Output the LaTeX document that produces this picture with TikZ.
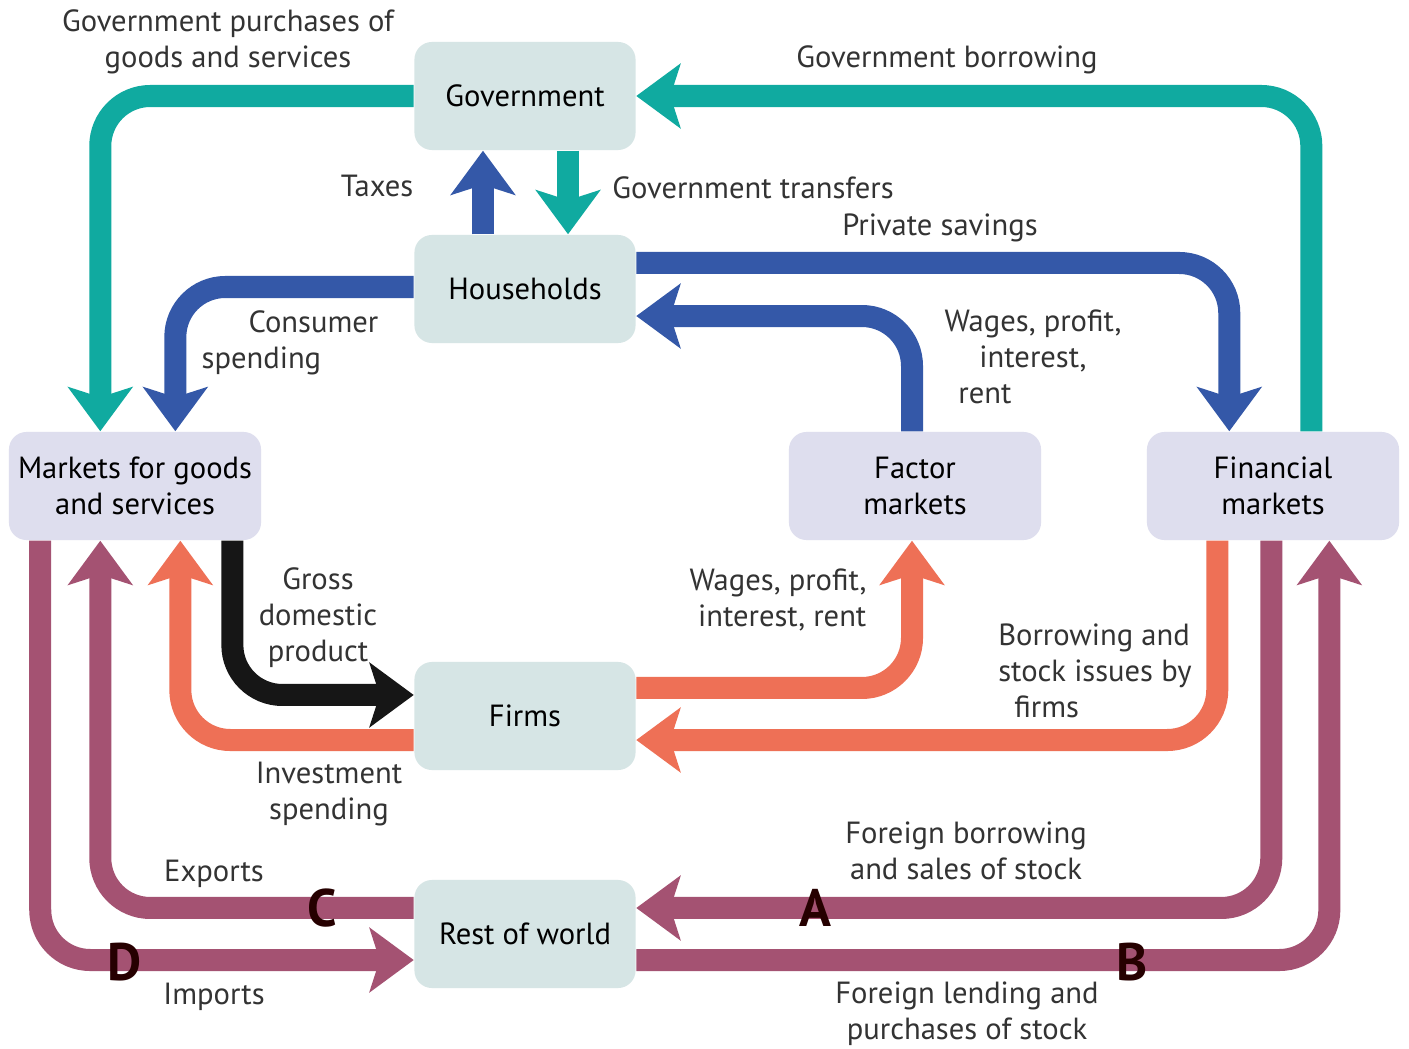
\documentclass[tikz,border=0pt]{standalone}
\usepackage{fontspec}
\setmainfont{PT Sans}
\usepackage{tikz}
\usetikzlibrary{positioning,arrows.meta}
\definecolor{flowteal}{RGB}{16,170,160}
\definecolor{flowblue}{RGB}{52,88,168}
\definecolor{floworange}{RGB}{238,112,86}
\definecolor{flowmaroon}{RGB}{164,82,114}
\definecolor{flowblack}{RGB}{22,22,22}
\definecolor{sectorfill}{RGB}{214,229,229}
\definecolor{marketfill}{RGB}{222,222,238}
\tikzset{
    sector/.style={
        fill=sectorfill,
        rounded corners=5pt,
        align=center,
        font=\fontsize{8.7}{10.4}\selectfont,
        inner xsep=2pt,
        minimum width=2.21cm,
        minimum height=1.08cm
    },
    market/.style={
        sector,
        fill=marketfill,
        minimum width=2.52cm
    },
    flow/.style={
        line width=0.22cm,
        rounded corners=0.5cm,
        -{Stealth[width=0.64cm,length=0.44cm,inset=0.1cm]}
    },
    tealflow/.style={flow, draw=flowteal},
    blueflow/.style={flow, draw=flowblue},
    orangeflow/.style={flow, draw=floworange},
    maroonflow/.style={flow, draw=flowmaroon},
    blackflow/.style={flow, draw=flowblack},
    lbl/.style={
        font=\fontsize{8.7}{10.2}\selectfont,
        text=black!80,
        inner sep=0pt
    },
    letter/.style={
        font=\fontsize{15}{15}\selectfont\bfseries,
        text=black!85!red,
        inner sep=0pt
    }
}

\begin{document}
\begin{tikzpicture}[x=0.01cm, y=-0.01cm]

\useasboundingbox[fill=white] (0,0) rectangle (1409,1049);

% SECTORS AND MARKETS
\node[sector] (gov) at (525,96) {Government};
\node[sector] (hh) at (525,289) {Households};
\node[sector] (firms) at (525,716) {Firms};
\node[sector] (row) at (525,934) {Rest of world};

\node[market] (mkt) at (135,486) {Markets for goods\\and services};
\node[market] (fac) at (915,486) {Factor\\markets};
\node[market] (fin) at (1273,486) {Financial\\markets};

% GOVERNMENT FLOWS
\draw[tealflow] (gov.west) -| ([xshift=0.92cm]mkt.north west);
\draw[tealflow] ([xshift=1.65cm]fin.north west) |- (gov.east);
\draw[tealflow] ([xshift=0.43cm]gov.south) -- ([xshift=0.43cm]hh.north);
\draw[blueflow] ([xshift=-0.42cm]hh.north) -- ([xshift=-0.42cm]gov.south);

% HOUSEHOLD FLOWS
\draw[blueflow] ([yshift=0.26cm]hh.east) -| ([xshift=0.83cm]fin.north west);
\draw[blueflow] ([xshift=-0.03cm]fac.north) |- ([yshift=-0.27cm]hh.east);
\draw[blueflow] ([yshift=0.02cm]hh.west) -| ([xshift=1.67cm]mkt.north west);

% FIRM FLOWS
\draw[blackflow] ([xshift=2.24cm]mkt.south west) |- ([yshift=0.21cm]firms.west);
\draw[orangeflow] ([yshift=-0.24cm]firms.west) -| ([xshift=1.72cm]mkt.south west);
\draw[orangeflow] ([yshift=0.28cm]firms.east) -| ([xshift=-0.03cm]fac.south);
\draw[orangeflow] ([xshift=0.71cm]fin.south west) |- ([yshift=-0.24cm]firms.east);

% REST OF WORLD FLOWS
\draw[maroonflow] ([yshift=0.26cm]row.west) -| ([xshift=0.92cm]mkt.south west);
\draw[maroonflow] ([xshift=0.32cm]mkt.south west) |- ([yshift=-0.26cm]row.west);
\draw[maroonflow] ([xshift=1.25cm]fin.south west) |- ([yshift=0.26cm]row.east);
\draw[maroonflow] ([yshift=-0.26cm]row.east) -| ([xshift=1.83cm]fin.south west);

% LABELS
\node[lbl, align=center] (gplbl) at (228,42) {Government purchases of\\goods and services};
\node[lbl] (gblbl) at (947,60) {Government borrowing};
\node[lbl] (taxlbl) at (377,186) {Taxes};
\node[lbl] (gtlbl) at (753,188) {Government transfers};
\node[lbl] (pslbl) at (940,228) {Private savings};
\node[lbl, align=left] (cslbl) at (290,343) {\hspace*{0.47cm}Consumer\\spending};
\node[lbl, align=center] (whlbl) at (1033,357) {Wages, profit,\\interest,\\rent\hspace*{0.96cm}};
\node[lbl, align=center] (gdplbl) at (318,618) {Gross\\domestic\\product};
\node[lbl, align=right] (wflbl) at (778,600) {Wages, profit,\\interest, rent};
\node[lbl, align=left] (bslbl) at (1095,671) {Borrowing and\\stock issues by\\\hspace*{0.16cm}firms};
\node[lbl, align=center] (invlbl) at (329,794) {Investment\\spending};
\node[lbl] (explbl) at (214,874) {Exports};
\node[lbl] (implbl) at (214,997) {Imports};
\node[lbl, align=center] (fblbl) at (966,851) {Foreign borrowing\\and sales of stock};
\node[lbl, align=center] (fllbl) at (967,1014) {Foreign lending and\\purchases of stock};

% LETTERS
\node[letter] (la) at (815,908) {A};
\node[letter] (lb) at (1132,962) {B};
\node[letter] (lc) at (322,908) {C};
\node[letter] (ld) at (125,962) {D};

\end{tikzpicture}
\end{document}
